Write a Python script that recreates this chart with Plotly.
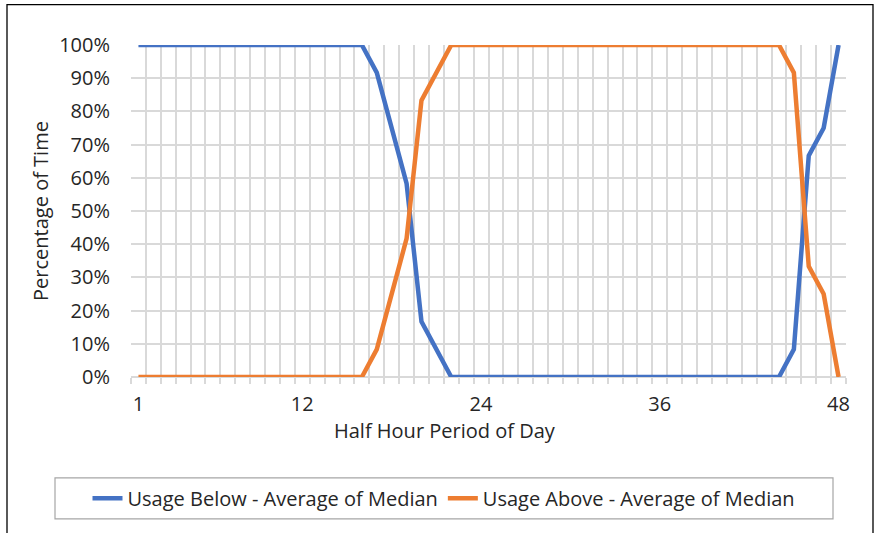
import plotly.graph_objects as go

periods = list(range(1, 49))
usage_below = [1.0]*16 + [11/12, 9/12, 7/12, 2/12, 1/12] + [0.0]*23 + [1/12, 8/12, 9/12, 1.0]
usage_above = [1 - v for v in usage_below]
x_tick_vals = [1, 12, 24, 36, 48]
x_tick_text = ["1", "12", "24", "36", "48"]

BLUE = "#4472C4"
ORANGE = "#ED7D31"
GRID = "#D9D9D9"
FONT = "Open Sans"
TXT = "#262626"
FS = 20

fig = go.Figure()
fig.add_trace(go.Scatter(x=periods, y=usage_below, mode="lines",
                         name="Usage Below - Average of Median",
                         line=dict(color=BLUE, width=4.5), cliponaxis=False))
fig.add_trace(go.Scatter(x=periods, y=usage_above, mode="lines",
                         name="Usage Above - Average of Median",
                         line=dict(color=ORANGE, width=4.5), cliponaxis=False))

W, H = 878, 533
L, R, T, B = 131, 32, 44.5, 156
pw, ph = W - L - R, H - T - B

def px_x(p):
    return (p - L) / pw

def px_y(p):
    return (H - B - p) / ph

fig.update_layout(
    width=W, height=H,
    margin=dict(l=L, r=R, t=T, b=B),
    paper_bgcolor="white", plot_bgcolor="white",
    font=dict(family=FONT, size=FS, color=TXT),
    showlegend=True,
    legend=dict(orientation="h", x=px_x(444), y=px_y(498.5),
                xanchor="center", yanchor="middle",
                font=dict(size=FS, color=TXT),
                bgcolor="rgba(0,0,0,0)"),
    xaxis=dict(range=[0.5, 48.5], tickmode="array", tickvals=x_tick_vals,
               ticktext=x_tick_text, showgrid=False, ticks="",
               ticklabelstandoff=13, zeroline=False, showline=False,
               minor=dict(tickmode="array",
                          tickvals=[i + 0.5 for i in range(0, 49)],
                          showgrid=True, gridcolor=GRID, gridwidth=1.5,
                          ticks="outside", ticklen=6, tickcolor=GRID, tickwidth=1.5)),
    yaxis=dict(range=[0, 1], dtick=0.1, tickformat=".0%",
               showgrid=True, gridcolor=GRID, gridwidth=1.5,
               zeroline=True, zerolinecolor=GRID, zerolinewidth=1.5,
               ticks="", ticklabelstandoff=20, showline=False,
               title=dict(text="Percentage of Time", standoff=5,
                          font=dict(size=FS, color=TXT))),
    annotations=[
        dict(text="Half Hour Period of Day", xref="paper", yref="paper",
             x=px_x(445), y=px_y(431), xanchor="center", yanchor="middle",
             showarrow=False, font=dict(size=FS, color=TXT)),
    ],
    shapes=[
        dict(type="rect", xref="paper", yref="paper",
             x0=px_x(55), x1=px_x(833), y0=px_y(519), y1=px_y(478),
             line=dict(color="#A6A6A6", width=1.2), fillcolor="rgba(0,0,0,0)", layer="below"),
        dict(type="rect", xref="paper", yref="paper",
             x0=px_x(7), x1=px_x(873), y0=px_y(545), y1=px_y(4),
             line=dict(color="#000000", width=1.3), fillcolor="rgba(0,0,0,0)", layer="below"),
    ],
)

fig.write_html("out.html")
